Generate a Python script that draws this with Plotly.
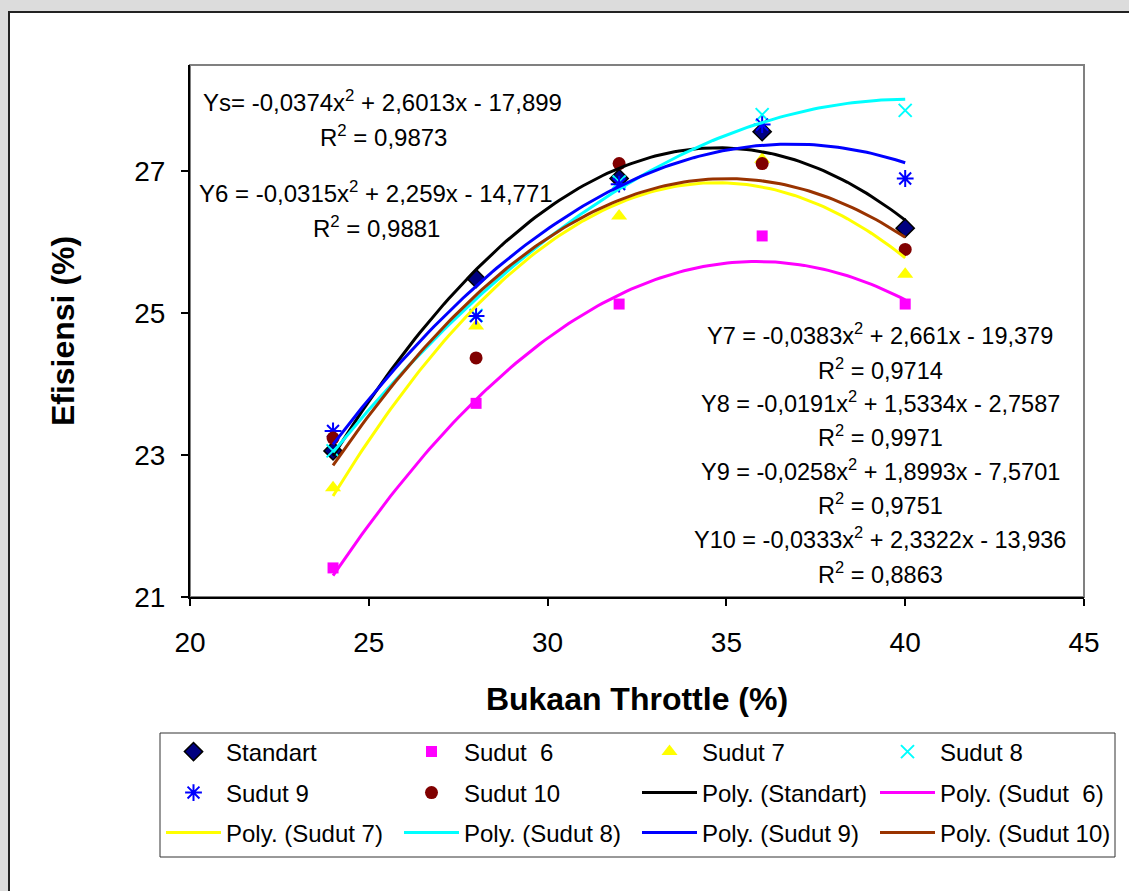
import numpy as np
import plotly.graph_objects as go

# ---- data ----
x_vals = [24, 28, 32, 36, 40]
standart = [23.06, 25.49, 26.90, 27.56, 26.20]
sudut6 = [21.41, 23.73, 25.13, 26.09, 25.13]
sudut7 = [22.54, 24.82, 26.37, 27.17, 25.55]
sudut8 = [23.06, 24.97, 26.85, 27.80, 27.86]
sudut9 = [23.34, 24.96, 26.82, 27.66, 26.90]
sudut10 = [23.24, 24.37, 27.11, 27.11, 25.90]

# trendline coefficients (a, b, c) as printed on chart: y = a x^2 + b x + c
coef_standart = [-0.0374, 2.6013, -17.899]
coef_sudut6 = [-0.0315, 2.259, -14.771]
coef_sudut7 = [-0.0383, 2.661, -19.379]
coef_sudut8 = [-0.0191, 1.5334, -2.7587]
coef_sudut9 = [-0.0258, 1.8993, -7.5701]
coef_sudut10 = [-0.0333, 2.3322, -13.936]

x_ticks = [20, 25, 30, 35, 40, 45]
y_ticks = [21, 23, 25, 27]

eq_left = [
    "Ys= -0,0374x<sup>2</sup> + 2,6013x - 17,899",
    "R<sup>2</sup> = 0,9873",
    "Y6 = -0,0315x<sup>2</sup> + 2,259x - 14,771",
    "R<sup>2</sup> = 0,9881",
]
eq_right = [
    "Y7 = -0,0383x<sup>2</sup> + 2,661x - 19,379",
    "R<sup>2</sup> = 0,9714",
    "Y8 = -0,0191x<sup>2</sup> + 1,5334x - 2,7587",
    "R<sup>2</sup> = 0,9971",
    "Y9 = -0,0258x<sup>2</sup> + 1,8993x - 7,5701",
    "R<sup>2</sup> = 0,9751",
    "Y10 = -0,0333x<sup>2</sup> + 2,3322x - 13,936",
    "R<sup>2</sup> = 0,8863",
]

FONT = "Liberation Sans, Arial, sans-serif"
W, H = 1129, 891
ML, MR, MT, MB = 190, 45, 65, 294
PW, PH = W - ML - MR, H - MT - MB


def px(x):
    return (x - ML) / PW


def py(y):
    return (H - MB - y) / PH


fig = go.Figure()

# legend rows (Excel legend: 4 columns x 3 rows)
marker_series = [
    ("Standart", standart, dict(symbol="diamond", size=14, color="#000080", line=dict(color="black", width=1.5)), "legend"),
    ("Sudut\u00a0 6", sudut6, dict(symbol="square", size=11, color="#FF00FF", line=dict(width=0)), "legend"),
    ("Sudut 7", sudut7, dict(symbol="triangle-up", size=14, color="#FFFF00", line=dict(width=0)), "legend"),
    ("Sudut 8", sudut8, dict(symbol="x-thin", size=13, color="#00FFFF", line=dict(color="#00FFFF", width=2)), "legend"),
    ("Sudut 9", sudut9, dict(symbol="asterisk", size=14, color="#0000FF", line=dict(color="#0000FF", width=2)), "legend2"),
    ("Sudut 10", sudut10, dict(symbol="circle", size=13, color="#800000", line=dict(width=0)), "legend2"),
]
for name, ys, mk, lg in marker_series:
    fig.add_trace(go.Scatter(x=x_vals, y=ys, mode="markers", name=name, marker=mk, legend=lg))

xs = np.linspace(min(x_vals), max(x_vals), 120)
line_series = [
    ("Poly. (Standart)", coef_standart, "#000000", "legend2"),
    ("Poly. (Sudut\u00a0 6)", coef_sudut6, "#FF00FF", "legend2"),
    ("Poly. (Sudut 7)", coef_sudut7, "#FFFF00", "legend3"),
    ("Poly. (Sudut 8)", coef_sudut8, "#00FFFF", "legend3"),
    ("Poly. (Sudut 9)", coef_sudut9, "#0000FF", "legend3"),
    ("Poly. (Sudut 10)", coef_sudut10, "#993300", "legend3"),
]
for name, c, col, lg in line_series:
    fig.add_trace(go.Scatter(x=xs, y=np.polyval(c, xs), mode="lines", name=name,
                             line=dict(color=col, width=3), legend=lg))

annotations = []
left_pos = [(382, 101), (383, 136), (376, 192), (376, 227)]
for t, (ax, ay) in zip(eq_left, left_pos):
    annotations.append(dict(text=t, x=px(ax), y=py(ay), xref="paper", yref="paper",
                            xanchor="center", yanchor="middle", showarrow=False,
                            font=dict(size=24, color="black", family=FONT)))
right_y = [334, 369, 402, 436, 470, 504, 538, 573]
for t, ay in zip(eq_right, right_y):
    annotations.append(dict(text=t, x=px(880), y=py(ay), xref="paper", yref="paper",
                            xanchor="center", yanchor="middle", showarrow=False,
                            font=dict(size=23.5, color="black", family=FONT)))

shapes = [
    # white chart frame
    dict(type="rect", xref="paper", yref="paper", x0=px(9), x1=px(1140), y0=py(12), y1=py(900),
         fillcolor="white", line=dict(color="#222222", width=2), layer="below"),
    # plot area border
    dict(type="rect", xref="paper", yref="paper", x0=0, x1=1, y0=0, y1=1,
         fillcolor="rgba(0,0,0,0)", line=dict(color="#808080", width=2), layer="below"),
    # legend box
    dict(type="rect", xref="paper", yref="paper", x0=px(160), x1=px(1115), y0=py(733), y1=py(857),
         fillcolor="white", line=dict(color="#333333", width=1), layer="below"),
]


def legend_row(yc):
    return dict(
        orientation="h",
        x=px(161), y=py(yc), xanchor="left", yanchor="middle",
        xref="paper", yref="paper",
        entrywidth=168, entrywidthmode="pixels",
        bgcolor="rgba(0,0,0,0)", borderwidth=0,
        font=dict(size=24, family=FONT, color="black"),
        traceorder="normal",
        itemwidth=55,
        tracegroupgap=0,
    )


fig.update_layout(
    width=W, height=H,
    margin=dict(l=ML, r=MR, t=MT, b=MB, pad=0),
    paper_bgcolor="#dcdcdc",
    plot_bgcolor="white",
    font=dict(family=FONT, color="black"),
    annotations=annotations,
    shapes=shapes,
    showlegend=True,
    legend=legend_row(752),
    legend2=legend_row(793),
    legend3=legend_row(833),
    xaxis=dict(
        range=[20, 45], tickvals=x_ticks, ticktext=[str(v) for v in x_ticks],
        showgrid=False, zeroline=False,
        showline=True, linecolor="black", linewidth=2,
        ticks="outside", ticklen=7, tickcolor="black", tickwidth=2,
        ticklabelstandoff=12,
        tickfont=dict(size=28, family=FONT, color="black"),
        title=dict(text="<b>Bukaan Throttle (%)</b>", font=dict(size=32, family=FONT, color="black"), standoff=31),
    ),
    yaxis=dict(
        range=[21, 28.5], tickvals=y_ticks, ticktext=[str(v) for v in y_ticks],
        showgrid=False, zeroline=False,
        showline=True, linecolor="black", linewidth=2,
        ticks="outside", ticklen=7, tickcolor="black", tickwidth=2,
        ticklabelstandoff=10,
        tickfont=dict(size=28, family=FONT, color="black"),
        title=dict(text="<b>Efisiensi (%)</b>", font=dict(size=32, family=FONT, color="black"), standoff=50),
    ),
)

fig.write_html("out.html")
